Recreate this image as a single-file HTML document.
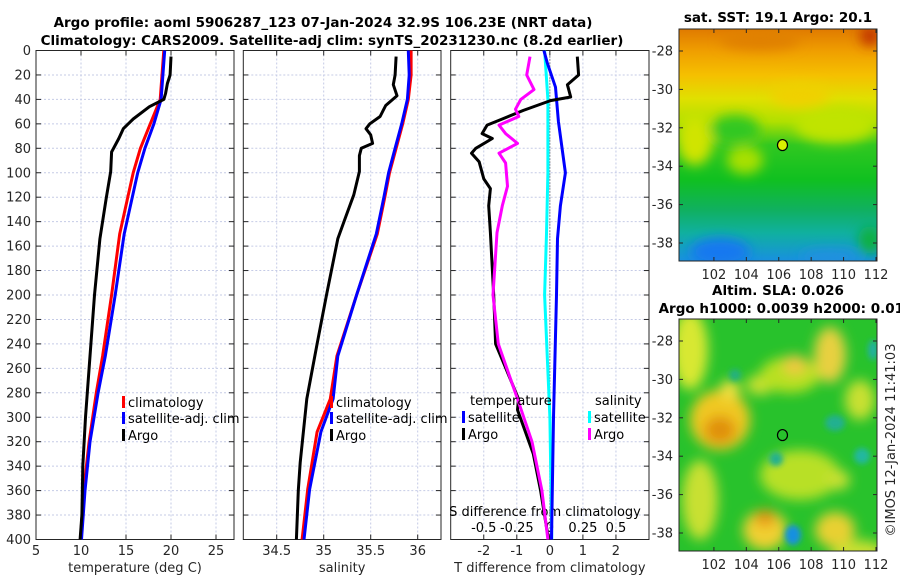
<!DOCTYPE html>
<html><head><meta charset="utf-8"><style>
html,body{margin:0;padding:0;background:#fff;}
svg{display:block;font-family:"DejaVu Sans","Liberation Sans",sans-serif;}
</style></head><body>
<svg id="fig" width="900" height="580" viewBox="0 0 900 580" xmlns="http://www.w3.org/2000/svg">
<defs>
<filter id="blur6" x="-50%" y="-50%" width="200%" height="200%"><feGaussianBlur stdDeviation="6"/></filter>
<filter id="blur3" x="-50%" y="-50%" width="200%" height="200%"><feGaussianBlur stdDeviation="3"/></filter>
<clipPath id="clipTop"><rect x="679" y="29" width="198" height="232"/></clipPath>
<clipPath id="clipBot"><rect x="679" y="319" width="198" height="232"/></clipPath>
<clipPath id="clipP1"><rect x="36" y="50.5" width="198" height="489"/></clipPath>
<clipPath id="clipP2"><rect x="243.3" y="50.5" width="197.7" height="489"/></clipPath>
<clipPath id="clipP3"><rect x="450.7" y="50.5" width="198.3" height="489"/></clipPath>
<linearGradient id="sstGrad" x1="0" y1="0" x2="0" y2="1">
<stop offset="0" stop-color="#e07a00"/><stop offset="0.1" stop-color="#f0a000"/>
<stop offset="0.2" stop-color="#f5c000"/><stop offset="0.3" stop-color="#e0e000"/>
<stop offset="0.4" stop-color="#b0e000"/><stop offset="0.5" stop-color="#30c820"/>
<stop offset="0.65" stop-color="#10c020"/><stop offset="0.78" stop-color="#10b060"/>
<stop offset="0.88" stop-color="#10b0a0"/><stop offset="1" stop-color="#1890e0"/></linearGradient>
</defs>
<g id="titles" fill="#000" font-weight="bold" font-size="13.5" text-anchor="middle">
<text x="323" y="27">Argo profile: aoml 5906287_123 07-Jan-2024 32.9S 106.23E (NRT data)</text>
<text x="332" y="45">Climatology: CARS2009. Satellite-adj clim: synTS_20231230.nc (8.2d earlier)</text>
<text x="778" y="22">sat. SST: 19.1 Argo: 20.1</text>
<text x="778" y="295">Altim. SLA: 0.026</text>
<text x="786" y="313">Argo h1000: 0.0039 h2000: 0.011</text>
</g>
<g id="panels"></g>
<g id="maps"></g>
<text transform="translate(895,440) rotate(-90)" text-anchor="middle" font-size="13" fill="#262626">©IMOS 12-Jan-2024 11:41:03</text>
</svg>
<script>
// ---------- data ----------
const yTicks = [0,20,40,60,80,100,120,140,160,180,200,220,240,260,280,300,320,340,360,380,400];
const tempTicks = [5,10,15,20,25];
const salTicks = [34.5,35,35.5,36];
const tdiffTicks = [-2,-1,0,1,2];
const sdiffTicks = [-0.5,-0.25,0,0.25,0.5];
const sdiffTickLabels = ["-0.5","-0.25","0","0.25","0.5"];

const argoTDepth = [5,20,27,35,40,46,56,64,72,83,99,121,154,200,240,280,300,340,380,400];
const argoT = [20.0,19.9,19.6,19.4,19.2,17.6,15.8,14.7,14.2,13.4,13.3,12.8,12.1,11.5,11.1,10.7,10.5,10.2,10.1,9.9];
const climDepth = [0,40,60,80,100,120,150,200,250,280,320,360,400];
const climT = [19.2,18.8,17.7,16.6,15.8,15.2,14.3,13.4,12.4,11.7,10.9,10.3,9.95];
const satT = [19.3,18.9,18.1,17.1,16.3,15.7,14.8,13.8,12.7,11.9,11.0,10.45,10.05];

const argoSDepth = [5,20,28,37,45,54,60,64,69,76,80,86,99,118,137,154,200,240,285,337,360,400];
const argoS = [35.77,35.76,35.74,35.78,35.66,35.60,35.49,35.45,35.50,35.52,35.40,35.38,35.38,35.32,35.23,35.15,35.03,34.93,34.82,34.75,34.73,34.71];
const climSDepth = [0,20,40,60,80,100,120,150,200,250,285,312,359,400];
const climS = [35.93,35.93,35.90,35.84,35.77,35.70,35.65,35.57,35.35,35.14,35.07,34.93,34.83,34.77];
const satS = [35.90,35.91,35.89,35.83,35.76,35.69,35.64,35.56,35.35,35.15,35.10,34.97,34.85,34.79];

const tdArgoDepth = [5,20,28,38,41,49,56,61,68,72,80,84,91,105,113,127,149,200,240,260,285,294,330,360,400];
const tdArgo = [0.83,0.87,0.53,0.63,0.02,-0.8,-1.44,-1.9,-2.05,-1.74,-2.24,-2.37,-2.14,-2.0,-1.8,-1.85,-1.8,-1.7,-1.64,-1.33,-0.95,-0.98,-0.5,-0.28,-0.04];
const sdArgoDepth = [5,20,32,40,48,54,61,68,76,84,92,111,127,149,200,240,285,320,360,400];
const sdArgo = [-0.15,-0.175,-0.12,-0.22,-0.26,-0.235,-0.385,-0.335,-0.245,-0.385,-0.335,-0.32,-0.36,-0.40,-0.43,-0.39,-0.245,-0.135,-0.06,-0.015];
const tdSatDepth = [0,10,30,58,100,127,154,200,300,400];
const tdSat = [-0.18,-0.08,0.17,0.26,0.47,0.32,0.23,0.2,0.11,0.05];
const sdSatDepth = [0,40,100,150,200,300,400];
const sdSat = [-0.04,-0.015,-0.015,-0.025,-0.04,0.0,0.015];

const latTicks = [-28,-30,-32,-34,-36,-38];
const lonTicks = [102,104,106,108,110,112];
const argoLon = [106.23];
const argoLat = [-32.9];

// ---------- helpers ----------
const NS = "http://www.w3.org/2000/svg";
const fig = document.getElementById('fig');
function mk(tag, attrs, parent){ const e=document.createElementNS(NS,tag); for(const k in attrs) e.setAttribute(k,attrs[k]); (parent||fig).appendChild(e); return e; }
const Y0=50.5, Y1=539.5;
const yScale = d => Y0 + d*(Y1-Y0)/400;
function lin(d0,d1,r0,r1){ return v => r0 + (v-d0)*(r1-r0)/(d1-d0); }

const panelsG = document.getElementById('panels');
const TXT = "#262626";

function drawPanel(name, x0, x1, xs, xTicks, xLabels, xTitle, showY){
  const g = mk('g', {}, panelsG);
  
  
  xTicks.forEach(t=>{ const x=xs(t); mk('line',{x1:x,x2:x,y1:Y0,y2:Y1,stroke:'#c5cbe6','stroke-width':1,'stroke-dasharray':'2,2'},g); });
  yTicks.forEach(t=>{ const y=yScale(t); mk('line',{x1:x0,x2:x1,y1:y,y2:y,stroke:'#c5cbe6','stroke-width':1,'stroke-dasharray':'2,2'},g); });
  const fr = mk('rect',{x:x0,y:Y0,width:x1-x0,height:Y1-Y0,fill:'none',stroke:'#262626','stroke-width':1},g);
  
  
  yTicks.forEach(t=>{ const y=yScale(t);
    mk('line',{x1:x0,x2:x0+5,y1:y,y2:y,stroke:'#262626'},g);
    mk('line',{x1:x1-5,x2:x1,y1:y,y2:y,stroke:'#262626'},g);
    if(showY){ const tx=mk('text',{x:x0-5,y:y+4.5,'text-anchor':'end','font-size':13,fill:TXT},g); tx.textContent=t;
        }
  });
  xTicks.forEach((t,i)=>{ const x=xs(t);
    mk('line',{x1:x,x2:x,y1:Y1,y2:Y1-5,stroke:'#262626'},g);
    mk('line',{x1:x,x2:x,y1:Y0,y2:Y0+5,stroke:'#262626'},g);
    const tx=mk('text',{x:x,y:555,'text-anchor':'middle','font-size':13,fill:TXT},g); tx.textContent=xLabels[i];
     
  });
  const tt=mk('text',{x:(x0+x1)/2,y:572,'text-anchor':'middle','font-size':13,fill:TXT},g); tt.textContent=xTitle;
   
  return g;
}
function drawLine(g, depths, vals, xs, color, clip, name){
  const pts = depths.map((d,i)=> xs(vals[i]).toFixed(1)+','+yScale(d).toFixed(1)).join(' ');
  const p = mk('polyline',{points:pts,fill:'none',stroke:color,'stroke-width':3,'stroke-linejoin':'round','clip-path':'url(#'+clip+')'},g);
  
  
}
function legendEntry(g, x, y, color, label){
  mk('rect',{x:x,y:y-11,width:3,height:12,fill:color},g);
  const t=mk('text',{x:x+6,y:y,'font-size':13,fill:'#000'},g); t.textContent=label;
   
}

// Panel 1
const xT = lin(5,27,36,234);
const p1 = drawPanel('temperature-panel',36,234,xT,tempTicks,tempTicks.map(String),'temperature (deg C)',true);
drawLine(p1, climDepth, climT, xT, '#ff0000','clipP1','climatology-temp-line');
drawLine(p1, climDepth, satT, xT, '#0000ff','clipP1','satellite-temp-line');
drawLine(p1, argoTDepth, argoT, xT, '#000000','clipP1','argo-temp-line');
legendEntry(p1,122,407,'#ff0000','climatology');
legendEntry(p1,122,423,'#0000ff','satellite-adj. clim');
legendEntry(p1,122,440,'#000000','Argo');

// Panel 2
const xS = lin(34.5,36,276.7,417.7);
const p2 = drawPanel('salinity-panel',243.3,441,xS,salTicks,['34.5','35','35.5','36'],'salinity',false);
drawLine(p2, climSDepth, climS, xS, '#ff0000','clipP2','climatology-sal-line');
drawLine(p2, climSDepth, satS, xS, '#0000ff','clipP2','satellite-sal-line');
drawLine(p2, argoSDepth, argoS, xS, '#000000','clipP2','argo-sal-line');
legendEntry(p2,330,407,'#ff0000','climatology');
legendEntry(p2,330,423,'#0000ff','satellite-adj. clim');
legendEntry(p2,330,440,'#000000','Argo');

// Panel 3
const xTD = lin(-3,3,450.7,649);
const xSD = lin(-0.75,0.75,450.7,649);
const p3 = drawPanel('difference-panel',450.7,649,xTD,tdiffTicks,['-2','-1','0','1','2'],'T difference from climatology',false);
mk('line',{x1:xTD(0),x2:xTD(0),y1:Y0,y2:Y1,stroke:'#333','stroke-width':1,'stroke-dasharray':'1,2'},p3);
sdiffTicks.forEach((t,i)=>{ const tx=mk('text',{x:xSD(t),y:532,'text-anchor':'middle','font-size':13,fill:'#000'},p3); tx.textContent=sdiffTickLabels[i];
    });
const sdt = mk('text',{x:545,y:516,'text-anchor':'middle','font-size':13,fill:'#000'},p3); sdt.textContent='S difference from climatology';
 
drawLine(p3, sdSatDepth, sdSat, xSD, '#00ffff','clipP3','satellite-sal-diff-line');
drawLine(p3, tdSatDepth, tdSat, xTD, '#0000ff','clipP3','satellite-temp-diff-line');
drawLine(p3, tdArgoDepth, tdArgo, xTD, '#000000','clipP3','argo-temp-diff-line');
drawLine(p3, sdArgoDepth, sdArgo, xSD, '#ff00ff','clipP3','argo-sal-diff-line');
const lt1=mk('text',{x:470,y:405,'font-size':13,fill:'#000'},p3); lt1.textContent='temperature';
 
const lt2=mk('text',{x:595,y:405,'font-size':13,fill:'#000'},p3); lt2.textContent='salinity';
 
legendEntry(p3,462,422,'#0000ff','satellite');
legendEntry(p3,462,439,'#000000','Argo');
legendEntry(p3,588,422,'#00ffff','satellite');
legendEntry(p3,588,439,'#ff00ff','Argo');

// ---------- maps ----------
const mapsG = document.getElementById('maps');
const lonS = lin(100,112,681.5,876);
function drawMapAxes(g, top){
  const latS = lin(-28,-38, top+22, top+214);
  mk('rect',{x:679,y:top,width:198,height:232,fill:'none',stroke:'#262626'},g);
  latTicks.forEach(t=>{ const y=latS(t);
    mk('line',{x1:679,x2:683,y1:y,y2:y,stroke:'#262626'},g);
    mk('line',{x1:873,x2:877,y1:y,y2:y,stroke:'#262626'},g);
    const tx=mk('text',{x:673,y:y+4.5,'text-anchor':'end','font-size':13,fill:TXT},g); tx.textContent=t;
      });
  lonTicks.forEach(t=>{ const x=lonS(t);
    mk('line',{x1:x,x2:x,y1:top+232,y2:top+228,stroke:'#262626'},g);
    mk('line',{x1:x,x2:x,y1:top,y2:top+4,stroke:'#262626'},g);
    const tx=mk('text',{x:x,y:top+250,'text-anchor':'middle','font-size':13,fill:TXT},g); tx.textContent=t;
      });
  return latS;
}
const gTop = mk('g',{},mapsG);


const tc = mk('g',{'clip-path':'url(#clipTop)'},gTop);
mk('rect',{x:679,y:29,width:198,height:232,fill:'url(#sstGrad)'},tc);
const bl = mk('g',{filter:'url(#blur6)'},tc);
mk('ellipse',{cx:695,cy:140,rx:18,ry:25,fill:'#d0e400'},bl);
mk('ellipse',{cx:745,cy:160,rx:18,ry:14,fill:'#a8e000'},bl);
mk('ellipse',{cx:835,cy:125,rx:40,ry:18,fill:'#c0e400'},bl);
mk('ellipse',{cx:735,cy:130,rx:25,ry:15,fill:'#30c820'},bl);
mk('ellipse',{cx:800,cy:95,rx:30,ry:12,fill:'#f0d000'},bl);
mk('ellipse',{cx:870,cy:36,rx:10,ry:10,fill:'#c03000'},bl);
mk('ellipse',{cx:760,cy:40,rx:40,ry:10,fill:'#e08000'},bl);
mk('ellipse',{cx:720,cy:252,rx:30,ry:14,fill:'#1878f0'},bl);
mk('ellipse',{cx:830,cy:257,rx:30,ry:7,fill:'#2090e0'},bl);
mk('ellipse',{cx:870,cy:240,rx:12,ry:14,fill:'#10b040'},bl);
const latTop = drawMapAxes(gTop, 29);
const dot = mk('ellipse',{cx:lonS(argoLon[0]),cy:latTop(argoLat[0]),rx:5,ry:5.5,fill:'#d8f000',stroke:'#000','stroke-width':1.2},gTop);



const gBot = mk('g',{},mapsG);


const bc = mk('g',{'clip-path':'url(#clipBot)'},gBot);
mk('rect',{x:679,y:319,width:198,height:232,fill:'#28c22c'},bc);
const b2 = mk('g',{filter:'url(#blur6)'},bc);
[[690,350,18,40,'#d8e830'],[720,420,30,30,'#f0c820'],[720,430,16,14,'#e09010'],[700,500,18,40,'#c8e030'],
 [730,390,10,10,'#f0e040'],[760,385,14,10,'#c8e030'],[790,375,30,18,'#b8e020'],[795,365,12,10,'#f0c840'],
 [830,355,16,28,'#e8d040'],[860,400,15,20,'#c8e030'],[800,475,40,25,'#b8e028'],[765,530,22,20,'#f0d030'],
 [765,518,10,8,'#e89010'],[835,530,20,18,'#e8d030'],[860,560,30,20,'#c8e030'],[838,480,12,10,'#c8e030']
].forEach(b=>mk('ellipse',{cx:b[0],cy:b[1],rx:b[2],ry:b[3],fill:b[4]},b2));
const b3 = mk('g',{filter:'url(#blur3)'},bc);
[[793,535,8,10,'#1890e0'],[835,423,10,8,'#20b090'],[862,456,8,8,'#20b8a0'],[776,459,7,7,'#20b090'],[735,375,6,6,'#20b080'],[873,350,5,10,'#20b0a0']
].forEach(b=>mk('ellipse',{cx:b[0],cy:b[1],rx:b[2],ry:b[3],fill:b[4]},b3));
const latBot = drawMapAxes(gBot, 319);
const dot2 = mk('ellipse',{cx:lonS(argoLon[0]),cy:latBot(argoLat[0]),rx:5,ry:5.5,fill:'none',stroke:'#000','stroke-width':1.2},gBot);


</script>
</body></html>
